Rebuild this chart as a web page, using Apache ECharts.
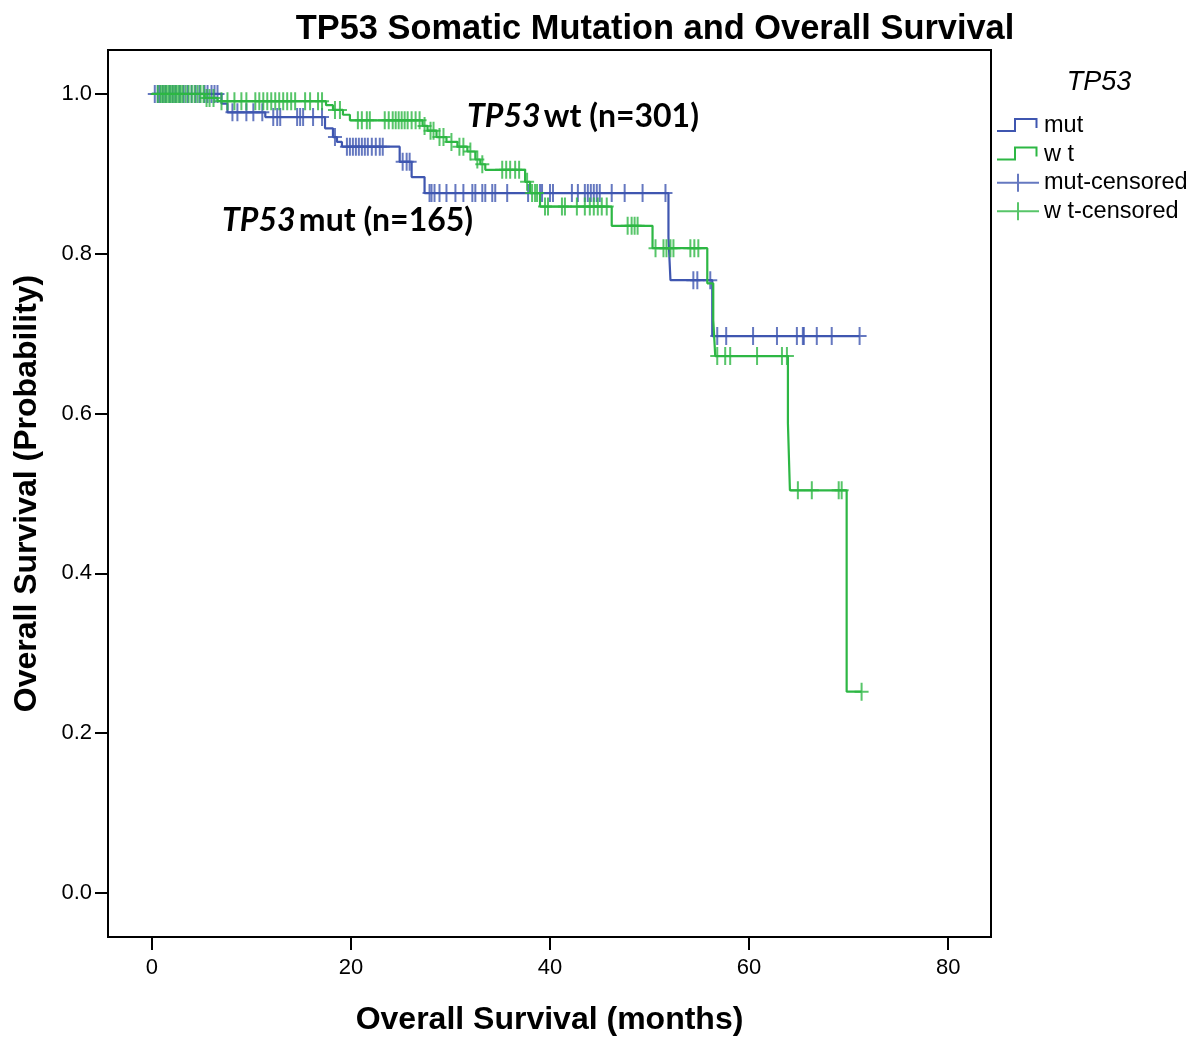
<!DOCTYPE html>
<html>
<head>
<meta charset="utf-8">
<title>TP53 Somatic Mutation and Overall Survival</title>
<script src="https://cdn.jsdelivr.net/npm/echarts@6/dist/echarts.min.js"></script>
<style>
  html, body { margin: 0; padding: 0; background: #fff; }
  #chart { width: 1204px; height: 1038px; }
</style>
</head>
<body>
<div id="chart"></div>
<script>
// Axis tick positions
const monthTicks = [0, 20, 40, 60, 80];
const probTicks = [0, 0.2, 0.4, 0.6, 0.8, 1.0];

// Kaplan-Meier steps: event times (months) and survival after each step
const mutTimes = [0, 7.0, 7.6, 11.4, 17.4, 18.2, 18.6, 19.1, 24.9, 26.1, 27.4, 51.9, 52.1, 56.3];
const mutSurv  = [1.0, 0.988, 0.977, 0.971, 0.957, 0.946, 0.940, 0.934, 0.915, 0.896, 0.876, 0.821, 0.767, 0.697];

const wtTimes = [0, 5.3, 6.6, 17.5, 18.2, 19.2, 19.9, 27.2, 27.7, 28.6, 29.6, 30.7, 31.7, 32.5, 33.0, 33.5,
                 37.5, 38.0, 39.0, 46.2, 50.3, 55.8, 56.4, 56.6, 63.9, 64.1, 69.8];
const wtSurv  = [1.0, 0.995, 0.991, 0.986, 0.980, 0.974, 0.967, 0.960, 0.954, 0.946, 0.940, 0.934, 0.928, 0.918, 0.912, 0.905,
                 0.890, 0.876, 0.859, 0.835, 0.807, 0.763, 0.717, 0.672, 0.588, 0.504, 0.252];

// Censoring times (months)
const mutCensored = [0.3, 0.6, 0.8, 1.1, 1.4, 1.8, 2.1, 2.4, 2.8, 3.2, 3.6, 4.0, 4.4, 4.8, 5.3, 5.6, 6.0, 6.3, 6.6,
  8.1, 8.6, 9.5, 10.2, 11.1,
  12.2, 12.6, 12.9, 14.6, 14.9, 15.2, 16.2, 17.1,
  18.4,
  19.6, 19.9, 20.2, 20.5, 20.8, 21.1, 21.4, 21.7, 22.1, 22.5, 22.9, 23.2,
  25.2, 25.6, 25.9,
  27.9, 28.1, 28.4, 28.9, 29.6, 30.5, 31.3, 32.2, 32.5, 33.2, 33.5, 34.2, 34.5, 35.7, 37.8, 39.0, 39.2, 40.0, 40.3,
  42.2, 42.8, 43.5, 43.8, 44.1, 44.4, 44.7, 45.0, 46.2, 47.5, 49.3, 51.6,
  54.4, 54.8, 56.1,
  56.8, 57.7, 60.4, 62.8, 64.8, 65.4, 65.5, 66.8, 68.3, 71.1];

const wtCensored = [0.6, 0.9, 1.1, 1.3, 1.5, 1.7, 1.9, 2.1, 2.3, 2.5, 2.7, 2.9, 3.1, 3.4, 3.7, 4.0, 4.3, 4.6, 4.9, 5.2,
  5.5, 5.8, 6.2,
  7.0, 7.6, 8.3, 9.0, 9.5, 10.4, 10.8, 11.2, 11.6, 12.0, 12.4, 12.8, 13.2, 13.6, 14.0, 14.4, 15.4, 15.9, 16.7, 17.1,
  18.4, 18.9,
  20.7, 21.1, 21.6, 21.9, 23.4, 23.8, 24.2, 24.5, 24.8, 25.1, 25.4, 25.7, 26.1, 26.5, 26.9,
  27.4, 28.0, 28.3, 28.9, 29.3, 30.1, 30.9, 31.3, 32.0, 32.7, 33.2,
  35.2, 35.6, 36.0, 36.5, 36.9,
  37.7, 38.2, 38.5, 38.7,
  39.5, 39.8, 41.2, 41.5, 42.7, 43.5, 44.0, 44.4, 44.8, 45.2, 45.7,
  47.8, 48.2, 48.5, 48.8,
  50.6, 51.4, 51.7, 52.1, 52.4, 54.1, 54.5, 54.9,
  56.8, 57.6, 58.1, 60.8, 63.3, 63.8,
  64.9, 66.3, 69.0, 69.3,
  71.3];

const MUT_COLOR = '#3F56B0';
const WT_COLOR = '#2DB744';

// Survival value at time t from a step function
function survivalAt(times, surv, t) {
  let s = surv[0];
  for (let i = 0; i < times.length; i++) {
    if (times[i] <= t) s = surv[i]; else break;
  }
  return s;
}

// Step curve points, extended to the last follow-up time
function curve(times, surv, censored) {
  const pts = times.map((t, i) => [t, surv[i]]);
  const lastFollow = Math.max(...censored);
  if (lastFollow > times[times.length - 1]) pts.push([lastFollow, surv[surv.length - 1]]);
  return pts;
}

function censorPoints(times, surv, censored) {
  return censored.map(t => [t, survivalAt(times, surv, t)]);
}

// Marker and legend icon shapes
const plusSymbol = 'path://M6,0 L8,0 L8,8 L14,8 L14,10 L8,10 L8,18 L6,18 L6,10 L0,10 L0,8 L6,8 Z';
const stepIcon = 'path://M0,0 M42,20 M0,14 L17,14 L17,2 L40.5,2 L40.5,12 L38.5,12 L38.5,4 L19,4 L19,16 L0,16 Z';
const censorIcon = 'path://M0,0 M42,20 M0,9 L20,9 L20,1 L22,1 L22,9 L42,9 L42,11 L22,11 L22,19 L20,19 L20,11 L0,11 Z';

const chart = echarts.init(document.getElementById('chart'), null, { renderer: 'canvas' });

const axisFont = 'Liberation Sans, Arial, sans-serif';
const noteFont = 'Lato, Carlito, Calibri, sans-serif';

function noteStyle(text) {
  return {
    text: text,
    verticalAlign: 'middle',
    rich: {
      i: { fontFamily: noteFont, fontStyle: 'italic', fontWeight: 'bold', fontSize: 32, fill: '#000' },
      b: { fontFamily: noteFont, fontWeight: 'bold', fontSize: 32, fill: '#000' }
    }
  };
}

chart.setOption({
  animation: false,
  backgroundColor: '#ffffff',
  title: [
    {
      text: 'TP53 Somatic Mutation and Overall Survival',
      left: 650, top: 8, textAlign: 'center',
      textStyle: { fontFamily: axisFont, fontWeight: 'bold', fontSize: 34.4, color: '#000' }
    },
    {
      text: 'TP53',
      left: 1094, top: 64, textAlign: 'center',
      textStyle: { fontFamily: axisFont, fontStyle: 'italic', fontWeight: 'normal', fontSize: 27, color: '#000' }
    }
  ],
  legend: {
    orient: 'vertical',
    left: 997, top: 114,
    padding: 0,
    itemWidth: 42, itemHeight: 20, itemGap: 4.4,
    selectedMode: false,
    textStyle: { fontFamily: axisFont, fontSize: 23.5, color: '#000' },
    itemStyle: { borderWidth: 0 },
    data: [
      { name: 'mut', icon: stepIcon },
      { name: 'w t', icon: stepIcon },
      { name: 'mut-censored', icon: censorIcon },
      { name: 'w t-censored', icon: censorIcon }
    ]
  },
  grid: {
    left: 108, right: 213, top: 50, bottom: 101,
    outerBoundsMode: 'none',
    show: true, borderColor: '#000', borderWidth: 2, backgroundColor: 'transparent'
  },
  xAxis: {
    type: 'value', min: -4.4, max: 84.3,
    name: 'Overall Survival (months)', nameLocation: 'middle', nameGap: 67,
    nameTextStyle: { fontFamily: axisFont, fontWeight: 'bold', fontSize: 32, color: '#000' },
    axisLine: { show: true, onZero: false, lineStyle: { color: '#000', width: 2 } },
    axisTick: { show: true, customValues: monthTicks, length: 13, lineStyle: { color: '#000', width: 2 } },
    axisLabel: { customValues: monthTicks, margin: 20, fontFamily: axisFont, fontSize: 22, color: '#000' },
    splitLine: { show: false }
  },
  yAxis: {
    type: 'value', min: -0.055, max: 1.055,
    name: 'Overall Survival (Probability)', nameLocation: 'middle', nameGap: 65, nameRotate: 90,
    nameTextStyle: { fontFamily: axisFont, fontWeight: 'bold', fontSize: 32, color: '#000' },
    axisLine: { show: true, onZero: false, lineStyle: { color: '#000', width: 2 } },
    axisTick: { show: true, customValues: probTicks, length: 13, lineStyle: { color: '#000', width: 2 } },
    axisLabel: { customValues: probTicks, margin: 16, fontFamily: axisFont, fontSize: 22, color: '#000',
                 formatter: v => v.toFixed(1) },
    splitLine: { show: false }
  },
  series: [
    {
      name: 'mut', type: 'line', step: 'end', symbol: 'none',
      color: MUT_COLOR, lineStyle: { color: MUT_COLOR, width: 2.2 },
      data: curve(mutTimes, mutSurv, mutCensored), z: 2
    },
    {
      name: 'mut-censored', type: 'scatter', symbol: plusSymbol, symbolSize: [14, 18],
      color: MUT_COLOR, itemStyle: { color: MUT_COLOR },
      data: censorPoints(mutTimes, mutSurv, mutCensored), z: 3
    },
    {
      name: 'w t', type: 'line', step: 'end', symbol: 'none',
      color: WT_COLOR, lineStyle: { color: WT_COLOR, width: 2.2 },
      data: curve(wtTimes, wtSurv, wtCensored), z: 4
    },
    {
      name: 'w t-censored', type: 'scatter', symbol: plusSymbol, symbolSize: [14, 18],
      color: WT_COLOR, itemStyle: { color: WT_COLOR },
      data: censorPoints(wtTimes, wtSurv, wtCensored), z: 5
    }
  ],
  graphic: [
    { type: 'text', x: 467, y: 117, z: 10, style: noteStyle('{i|TP53} {b|wt (n=301)}') },
    { type: 'text', x: 222, y: 221, z: 10, style: noteStyle('{i|TP53} {b|mut (n=165)}') }
  ]
});
</script>
</body>
</html>
